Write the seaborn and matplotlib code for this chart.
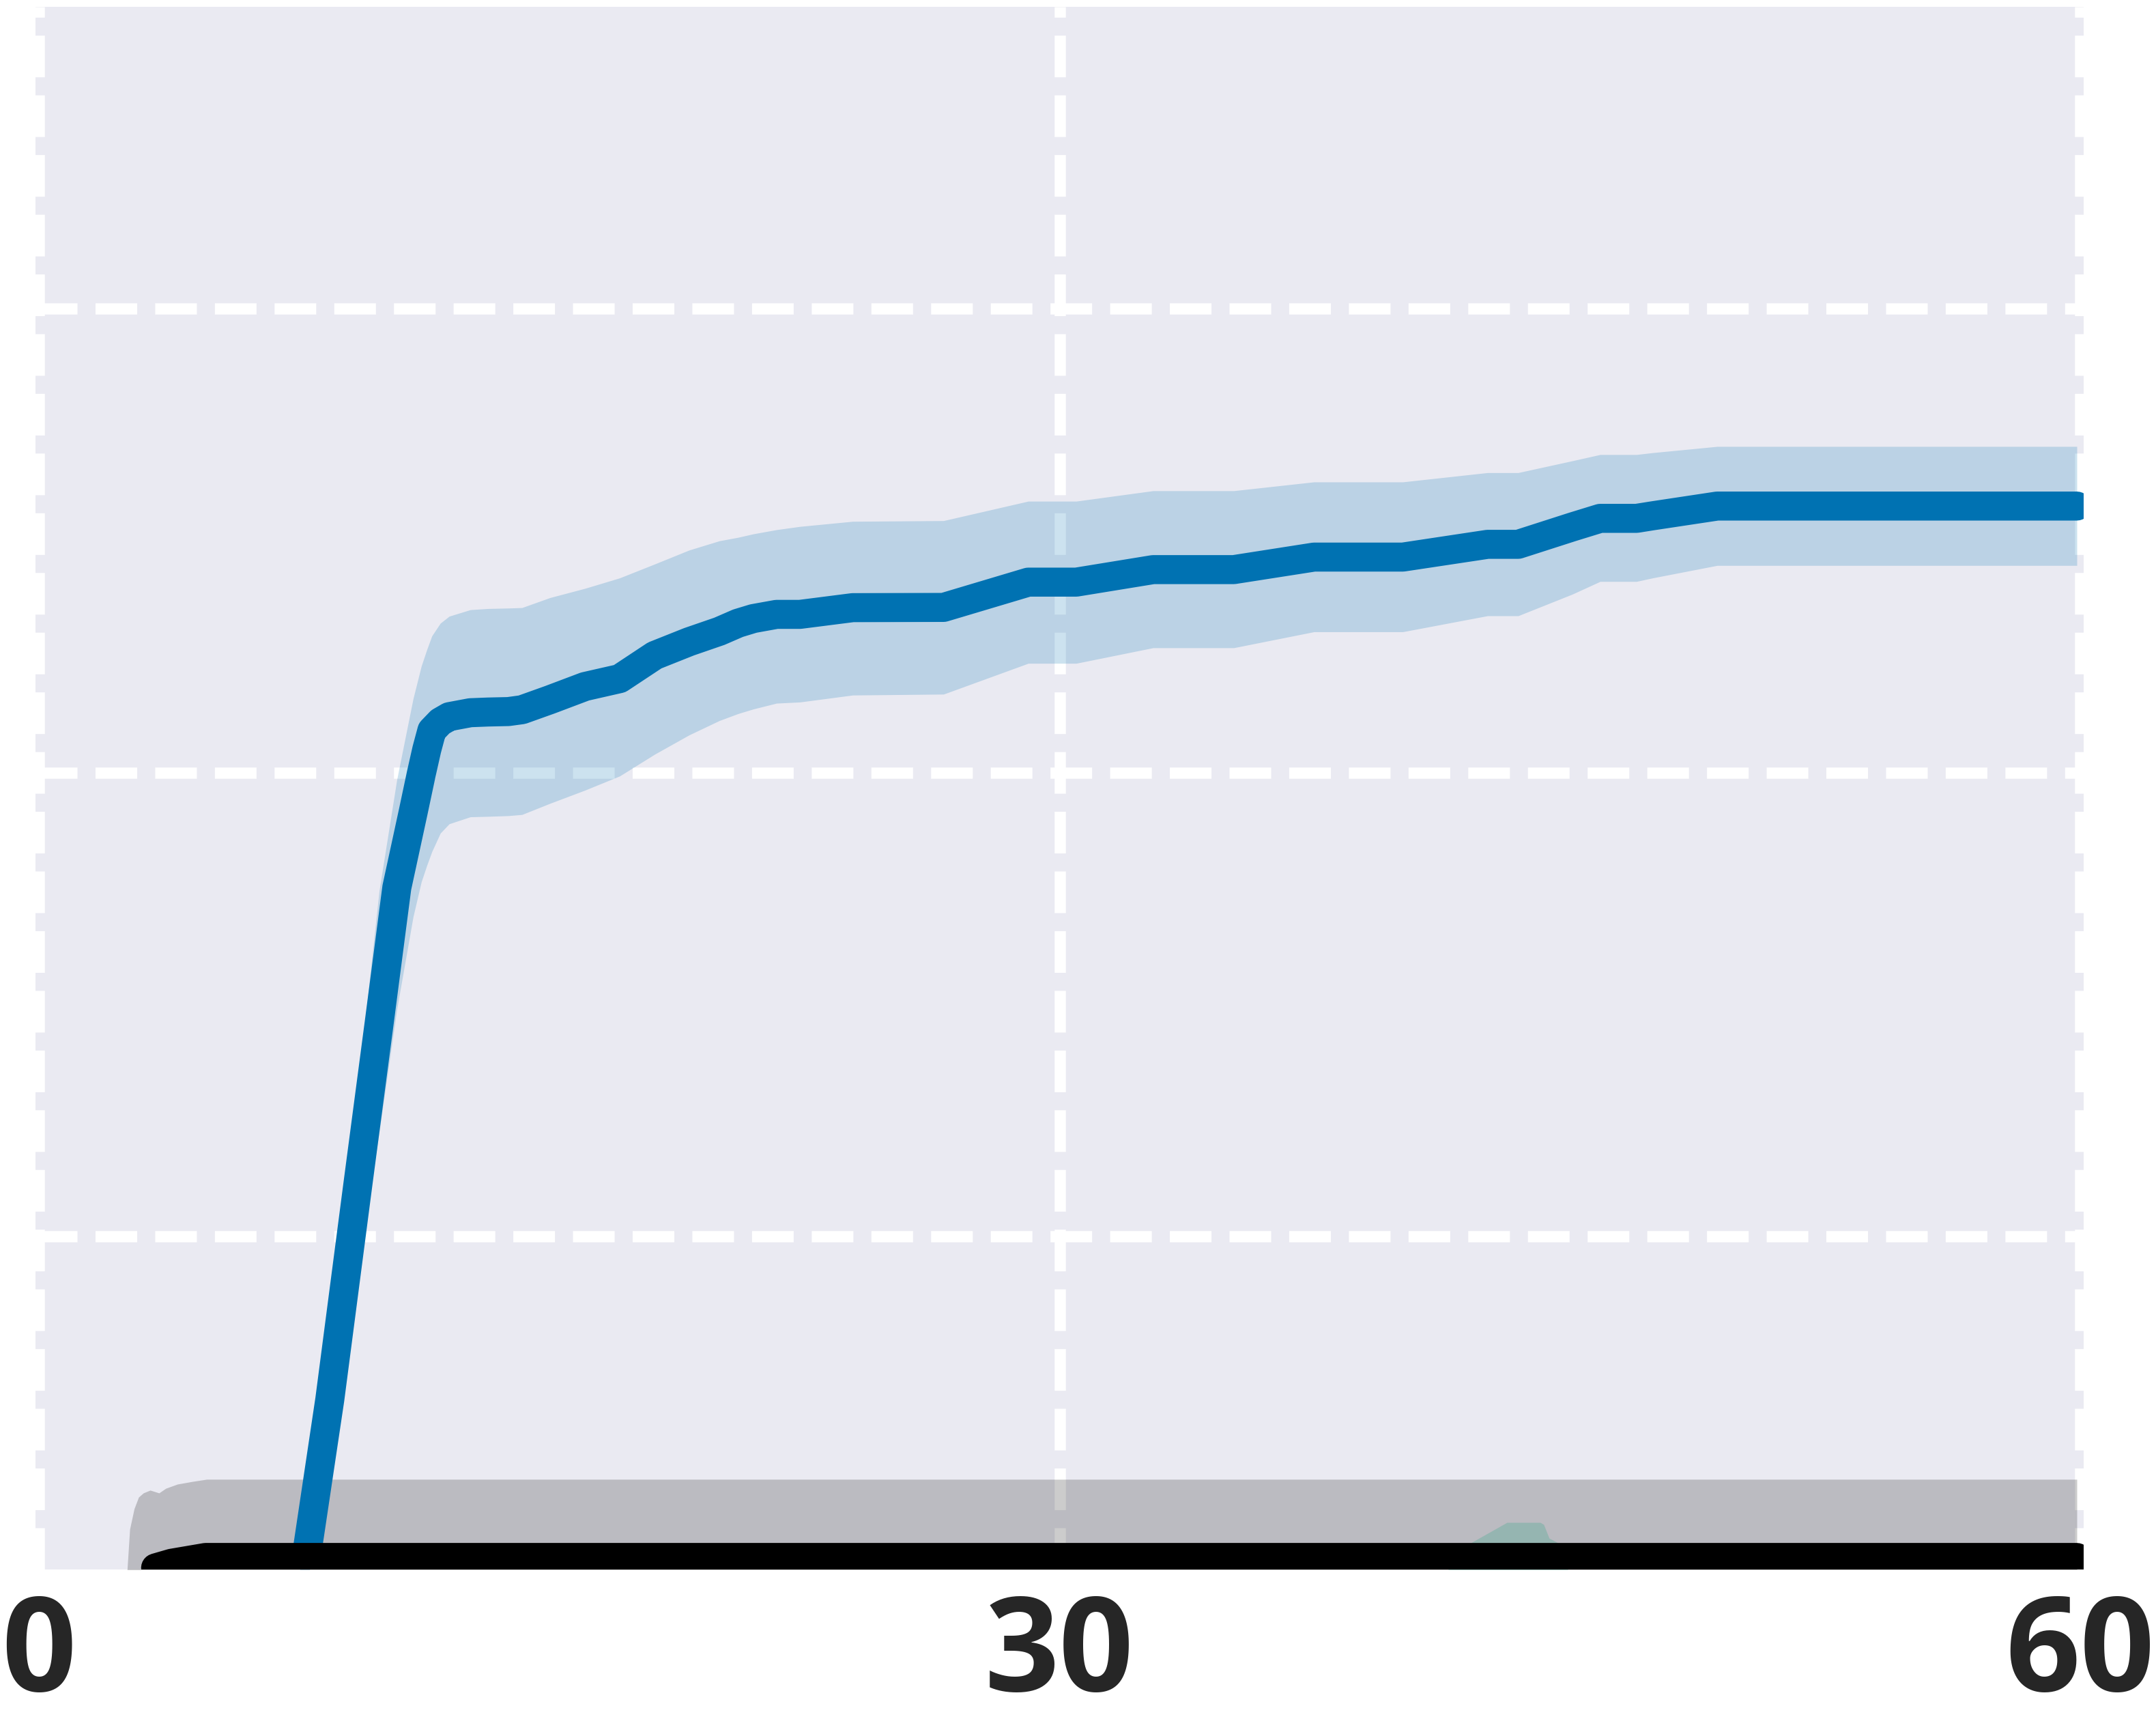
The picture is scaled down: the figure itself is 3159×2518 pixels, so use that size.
import matplotlib
matplotlib.use("Agg")
import matplotlib.pyplot as plt
import seaborn as sns
import numpy as np

# ---------------- data ----------------
# blue series: mean and band
x_blue = [7.4, 7.92, 8.55, 9.38, 10.0, 10.52, 11.0, 11.24, 11.4, 11.55, 11.8, 12.06, 12.68, 13.2,
          13.8, 14.2, 15.02, 16.05, 17.07, 18.1, 19.11, 20.0, 20.55, 21.0, 21.68, 22.37, 23.92,
          26.59, 29.08, 30.49, 32.75, 35.12, 37.48, 40.09, 42.58, 43.48, 45.07, 45.89,
          46.96, 47.43, 49.33, 59.9]
y_blue = [1.8, 6.8, 12.98, 22.31, 29.2, 35.05, 38.3, 39.96, 41.0, 41.82, 42.2, 42.42, 42.59, 42.62,
          42.64, 42.72, 43.15, 43.72, 44.06, 45.06, 45.65, 46.1, 46.45, 46.65, 46.83, 46.83, 47.12,
          47.13, 48.22, 48.22, 48.76, 48.76, 49.30, 49.30, 49.85, 49.85, 50.60, 50.97,
          50.97, 51.08, 51.50, 51.50]
y_blue_hi = [2.8, 8.3, 15.0, 26.5, 34.9, 39.7, 43.2, 44.6, 45.3, 45.9, 46.45, 46.75, 47.03, 47.08,
             47.10, 47.12, 47.55, 47.95, 48.4, 49.0, 49.6, 50.0, 50.15, 50.3, 50.48, 50.62, 50.84,
             50.87, 51.71, 51.71, 52.16, 52.16, 52.54, 52.54, 52.94, 52.94, 53.45, 53.72,
             53.72, 53.80, 54.07, 54.07]
y_blue_lo = [0.8, 5.3, 11.0, 18.5, 24.5, 29.8, 33.8, 35.3, 36.0, 36.6, 37.4, 37.8, 38.1, 38.12,
             38.15, 38.2, 38.68, 39.25, 39.86, 40.8, 41.63, 42.25, 42.55, 42.75, 43.0, 43.05, 43.35,
             43.39, 44.72, 44.72, 45.39, 45.39, 46.08, 46.08, 46.77, 46.77, 47.7, 48.25,
             48.25, 48.40, 48.94, 48.94]

# black series: mean line and its band
x_black = [3.43, 3.9, 4.3, 4.9, 59.9]
y_black = [5.72, 5.92, 6.02, 6.17, 6.17]
x_black_band = [2.5, 2.67, 2.80, 2.93, 3.07, 3.27, 3.53, 3.73, 4.07, 4.53, 4.93, 59.9]
y_black_hi = [3.5, 7.39, 8.27, 8.77, 8.95, 9.07, 8.95, 9.15, 9.33, 9.45, 9.54, 9.54]
y_black_lo = [2.0, 2.2, 2.4, 2.5, 2.6, 2.7, 2.7, 2.75, 2.8, 2.85, 2.85, 2.85]

# green series (mean below the visible range, band pokes up near x=43)
x_green = [2.5, 40.5, 42.05, 43.15, 44.13, 44.23, 44.39, 44.69, 45.3, 59.9]
y_green = [4.0, 4.0, 4.0, 4.0, 4.0, 4.0, 4.0, 4.0, 4.0, 4.0]
y_green_hi = [4.0, 4.0, 6.77, 7.68, 7.68, 7.59, 7.0, 6.77, 4.0, 4.0]
y_green_lo = [2.0, 2.0, 2.0, 2.0, 2.0, 2.0, 2.0, 2.0, 2.0, 2.0]

x_ticks = [0, 30, 60]
x_tick_labels = ["0", "30", "60"]
y_ticks = [20, 40, 60]

# ---------------- styling ----------------
sns.set_theme(style="darkgrid")
plt.rcParams['font.family'] = ['Open Sans', 'DejaVu Sans']

W, H, DPI = 3159, 2518, 300
fig = plt.figure(figsize=(W / DPI, H / DPI), dpi=DPI)
fig.patch.set_facecolor("white")
L, R, T, B = 52, 3053, 10, 2299
ax = fig.add_axes([L / W, (H - B) / H, (R - L) / W, (B - T) / H])
ax.set_facecolor("#EAEAF2")

BLUE, BLACK, GREEN = "#0072B2", "#000000", "#009E73"
LW = 10.2

# bands (drawn under lines)
ax.fill_between(x_blue, y_blue_lo, y_blue_hi, color=BLUE, alpha=0.2, linewidth=0)
ax.fill_between(x_black_band, y_black_lo, y_black_hi, color=BLACK, alpha=0.2, linewidth=0)
ax.fill_between(x_green, y_green_lo, y_green_hi, color=GREEN, alpha=0.2, linewidth=0)

# mean lines
line_kw = dict(linewidth=LW, solid_capstyle="round", solid_joinstyle="round", errorbar=None, ax=ax)
sns.lineplot(x=x_blue, y=y_blue, color=BLUE, **line_kw)
sns.lineplot(x=x_black, y=y_black, color=BLACK, **line_kw)
sns.lineplot(x=x_green, y=y_green, color=GREEN, **line_kw)

ax.grid(True, color="white", linestyle="--", linewidth=3.96)
ax.set_axisbelow(True)
for s in ax.spines.values():
    s.set_visible(False)

ax.set_xlim(-0.1003, 60.1003)
ax.set_ylim(5.651, 73.024)
ax.set_xticks(x_ticks)
ax.set_xticklabels(x_tick_labels)
ax.set_yticks(y_ticks)
ax.set_yticklabels([])
ax.tick_params(axis="x", length=0, pad=7.7, labelsize=46, labelcolor="#262626")
ax.tick_params(axis="y", length=0)
for lab in ax.get_xticklabels():
    lab.set_fontweight("bold")
ax.set_xlabel("")
ax.set_ylabel("")

fig.savefig("out.png", dpi=DPI, facecolor="white")
